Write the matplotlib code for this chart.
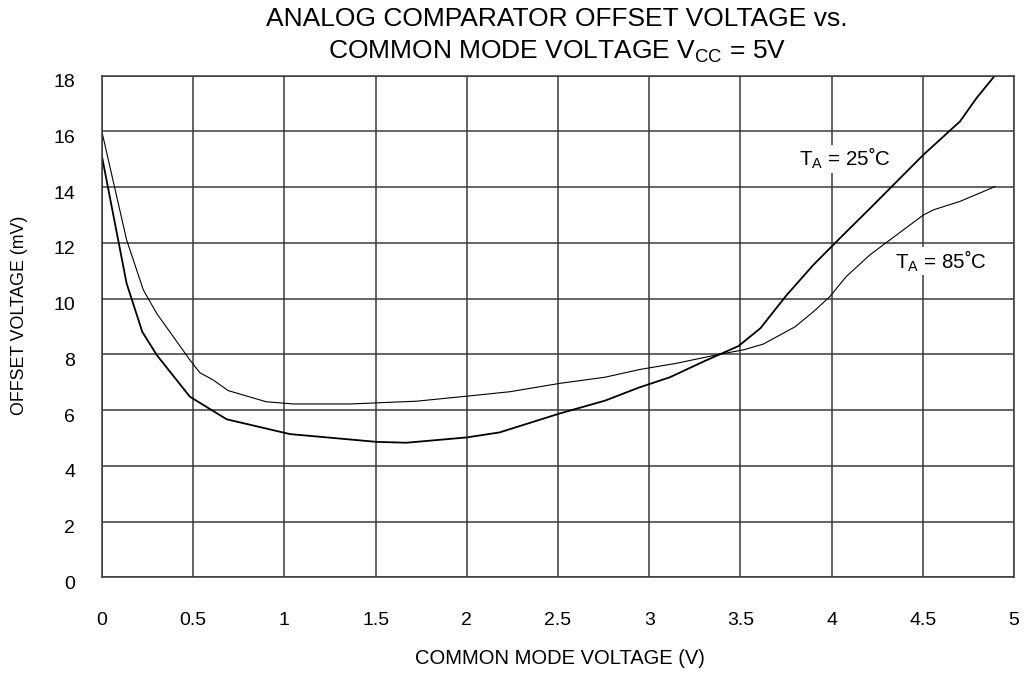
import matplotlib
matplotlib.use("Agg")
import matplotlib.pyplot as plt
import matplotlib.transforms as mtransforms

plt.rcParams["font.family"] = ["Liberation Sans", "DejaVu Sans"]
plt.rcParams["mathtext.fontset"] = "custom"
plt.rcParams["mathtext.rm"] = "Liberation Sans"
plt.rcParams["mathtext.it"] = "Liberation Sans"

# T_A = 25 C
x25 = [0.0, 0.135, 0.221, 0.30, 0.482, 0.684, 1.03, 1.506, 1.67, 2.0, 2.18,
       2.51, 2.758, 2.94, 3.114, 3.297, 3.49, 3.61, 3.754, 3.90, 4.055, 4.22,
       4.503, 4.704, 4.795, 4.896]
y25 = [15.1, 10.55, 8.81, 7.98, 6.48, 5.67, 5.14, 4.86, 4.83, 5.02, 5.2,
       5.88, 6.34, 6.80, 7.18, 7.74, 8.30, 8.94, 10.13, 11.21, 12.23, 13.30,
       15.16, 16.36, 17.20, 18.01]

# T_A = 85 C
x85 = [0.0, 0.135, 0.227, 0.30, 0.482, 0.537, 0.61, 0.692, 0.90, 1.05, 1.36,
       1.725, 2.0, 2.237, 2.51, 2.758, 2.95, 3.15, 3.39, 3.516, 3.626, 3.80,
       3.90, 3.99, 4.08, 4.21, 4.357, 4.503, 4.56, 4.704, 4.896]
y85 = [15.98, 12.11, 10.31, 9.47, 7.80, 7.34, 7.08, 6.70, 6.30, 6.22, 6.22,
       6.32, 6.50, 6.66, 6.96, 7.18, 7.46, 7.68, 8.01, 8.16, 8.37, 8.99,
       9.53, 10.07, 10.79, 11.57, 12.29, 13.0, 13.19, 13.49, 14.02]

xticks = [0, 0.5, 1, 1.5, 2, 2.5, 3, 3.5, 4, 4.5, 5]
xticklabels = ["0", "0.5", "1", "1.5", "2", "2.5", "3", "3.5", "4", "4.5", "5"]
yticks = [0, 2, 4, 6, 8, 10, 12, 14, 16, 18]

fig = plt.figure(figsize=(10.31, 6.82), dpi=100)
ax = fig.add_axes([0.0989, 0.1535, 0.8846, 0.7355])

ax.plot(x25, y25, color="black", lw=1.3)
ax.plot(x85, y85, color="black", lw=0.8)

ax.set_xlim(0, 5)
ax.set_ylim(0, 18)
ax.set_xticks(xticks)
ax.set_xticklabels(xticklabels)
ax.set_yticks(yticks)
ax.grid(True, color="#3a3a3a", lw=1.1)
ax.set_axisbelow(True)
for s in ax.spines.values():
    s.set_color("#3a3a3a")
    s.set_linewidth(1.1)
ax.tick_params(length=0, labelsize=14)
ax.tick_params(axis="y", pad=19.4)
ax.tick_params(axis="x", pad=24.8)

# y tick labels sit a little below their grid lines
shift = mtransforms.ScaledTranslation(0, -5 / 100, fig.dpi_scale_trans)
for tick in ax.yaxis.get_major_ticks():
    tick.label1.set_transform(tick.label1.get_transform() + shift)

ax.set_xlabel("COMMON MODE VOLTAGE (V)", fontsize=14.5, va="center")
ax.xaxis.set_label_coords(0.502, -0.1615)
ax.set_ylabel("OFFSET VOLTAGE (mV)", fontsize=12.8, va="center")
ax.yaxis.set_label_coords(-0.0899, 0.523)

fig.text(0.5400, 1 - 26 / 682, "ANALOG COMPARATOR OFFSET VOLTAGE vs.",
         fontsize=19, ha="center", va="baseline")
fig.text(0.5400, 1 - 59 / 682,
         r"COMMON MODE VOLTAGE V$_\mathregular{CC}$ = 5V",
         fontsize=19, ha="center", va="baseline")

box = dict(facecolor="white", edgecolor="none", pad=1)
ax.text(3.82, 15.02, r"T$_\mathregular{A}$ = 25˚C", fontsize=14.8,
        va="center", ha="left", bbox=box)
ax.text(4.35, 11.35, r"T$_\mathregular{A}$ = 85˚C", fontsize=14.8,
        va="center", ha="left", bbox=box)

fig.savefig("out.png", dpi=100)
